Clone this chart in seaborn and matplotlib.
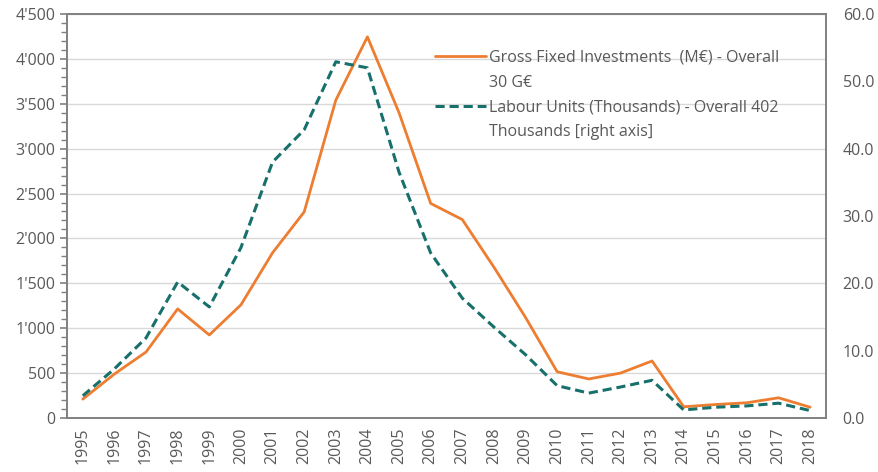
import numpy as np
import pandas as pd
import matplotlib
matplotlib.use("Agg")
import matplotlib.pyplot as plt
from matplotlib.lines import Line2D
from matplotlib.ticker import FuncFormatter, MultipleLocator, FixedLocator
import seaborn as sns

# values
years = [str(y) for y in range(1995, 2019)]
investments = [210, 490, 735, 1215, 925, 1260, 1840, 2295, 3540, 4245,
               3400, 2390, 2210, 1680, 1120, 515, 435, 500, 635, 125,
               150, 170, 225, 120]
labour = [3.3, 7.3, 11.9, 20.2, 16.5, 25.3, 38.0, 42.8, 52.9, 52.0,
          36.5, 24.5, 17.8, 13.5, 9.4, 4.8, 3.7, 4.6, 5.6, 1.2,
          1.6, 1.8, 2.2, 1.1]

label_inv = ["Gross Fixed Investments  (M\u20ac) - Overall", "30 G\u20ac"]
label_lab = ["Labour Units (Thousands) - Overall 402", "Thousands [right axis]"]

orange = "#ED7D31"
teal = "#17706B"
grey = "#808080"
txt = "#595959"

sns.set_style("white")
plt.rcParams['font.family'] = ['Open Sans', 'DejaVu Sans']

df = pd.DataFrame({"year": years, "inv": investments, "lab": labour})
df["pos"] = np.arange(len(years))

fig = plt.figure(figsize=(8.79, 4.72), dpi=100)
ax = fig.add_axes([0.0762, 0.1144, 0.8635, 0.856])
ax2 = ax.twinx()

sns.lineplot(data=df, x="pos", y="inv", ax=ax, color=orange, linewidth=2, legend=False)
sns.lineplot(data=df, x="pos", y="lab", ax=ax2, color=teal, linewidth=2.2,
             linestyle=(0, (3, 1.6)), legend=False)

ax.set_xlim(-0.5, len(years) - 0.5)
ax.set_ylim(0, 4500)
ax2.set_ylim(0, 60)
ax.set_xlabel("")
ax.set_ylabel("")
ax2.set_ylabel("")

ax.yaxis.set_major_locator(MultipleLocator(500))
ax.yaxis.set_minor_locator(MultipleLocator(100))
ax.yaxis.set_major_formatter(FuncFormatter(lambda v, p: f"{v:,.0f}".replace(",", "'")))
ax2.yaxis.set_major_locator(MultipleLocator(10))
ax2.yaxis.set_major_formatter(FuncFormatter(lambda v, p: f"{v:.1f}"))

ax.set_xticks(df["pos"])
ax.set_xticklabels(years, rotation=90)
ax.xaxis.set_minor_locator(FixedLocator(np.arange(-0.5, len(years), 1)))

ax.grid(axis="y", color="#D9D9D9", linewidth=1)
ax.set_axisbelow(True)

for a in (ax, ax2):
    for s in a.spines.values():
        s.set_color(grey)
        s.set_linewidth(1.2)

ax.tick_params(axis="x", which="major", length=0, pad=7, labelsize=11.5, labelcolor=txt)
ax.tick_params(axis="x", which="minor", length=5, color=grey, width=1.2)
ax.tick_params(axis="y", which="major", length=5, color=grey, width=1.2,
               labelsize=11.5, labelcolor=txt, left=True)
ax.tick_params(axis="y", which="minor", length=4, color=grey, width=1, left=True)
ax2.tick_params(axis="y", which="major", length=0, pad=12, labelsize=11.5, labelcolor=txt)

# legend: line handle on the first text row, blank handle on the wrapped row
blank = Line2D([], [], color="none")
h_inv = Line2D([], [], color=orange, linewidth=2)
h_lab = Line2D([], [], color=teal, linewidth=2.2, linestyle=(0, (3, 1.6)))
leg = ax2.legend([h_inv, blank, h_lab, blank], label_inv + label_lab,
                 loc="upper left", bbox_to_anchor=(0.478, 0.925),
                 bbox_transform=fig.transFigure, frameon=False, handlelength=3.2,
                 handletextpad=0.2, labelspacing=0.55, fontsize=11.5)
for t in leg.get_texts():
    t.set_color(txt)

fig.savefig("out.png", dpi=100)
